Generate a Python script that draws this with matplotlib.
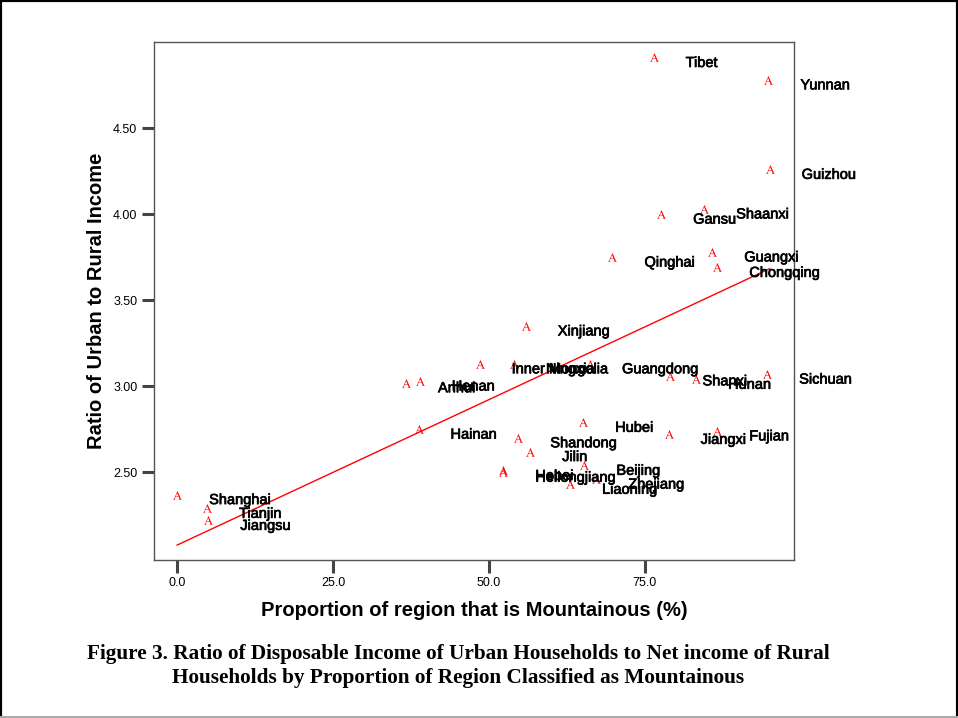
import numpy as np
import matplotlib.pyplot as plt
import matplotlib.patheffects as pe
from matplotlib.lines import Line2D

plt.rcParams['mathtext.fontset'] = 'stix'

# provinces, % mountainous, urban/rural income ratio
regions = ["Tibet", "Yunnan", "Guizhou", "Gansu", "Shaanxi", "Qinghai",
           "Guangxi", "Chongqing", "Xinjiang", "Guangdong", "Shanxi", "Hunan",
           "Sichuan", "Inner Mongolia", "Ningxia", "Henan", "Anhui", "Hainan",
           "Hubei", "Jiangxi", "Fujian", "Shandong", "Jilin", "Hebei",
           "Heilongjiang", "Beijing", "Zhejiang", "Liaoning", "Shanghai",
           "Tianjin", "Jiangsu"]
mountain = [76.4, 94.8, 95.0, 77.6, 84.5, 69.8,
            85.8, 86.6, 55.9, 66.2, 79.1, 83.2,
            94.6, 48.5, 54.0, 38.9, 36.7, 38.7,
            65.1, 78.8, 86.6, 54.7, 56.6, 52.3,
            52.3, 65.3, 67.2, 63.0, 0.0,
            4.8, 5.0]
ratio = [4.91, 4.78, 4.26, 4.00, 4.03, 3.75,
         3.78, 3.69, 3.35, 3.13, 3.06, 3.04,
         3.07, 3.13, 3.13, 3.03, 3.02, 2.75,
         2.79, 2.72, 2.74, 2.70, 2.62, 2.51,
         2.50, 2.54, 2.46, 2.43, 2.37,
         2.29, 2.22]

x = np.array(mountain)
y = np.array(ratio)

fig = plt.figure(figsize=(9.58, 7.18), dpi=100)
ax = fig.add_axes([0.1608, 0.2201, 0.668, 0.7214])

# points drawn as little red "A" glyphs like the SPSS output
ax.scatter(x, y, marker=r'$\mathrm{A}$', s=40, color='red', linewidths=0)

heavy = [pe.withStroke(linewidth=0.5, foreground='black')]
for name, xi, yi in zip(regions, x, y):
    ax.annotate(name, (xi, yi), xytext=(32, -5.5), textcoords='offset pixels',
                ha='left', va='center', fontsize=10.5,
                family='Liberation Sans', color='black', annotation_clip=False,
                path_effects=heavy)

# linear fit
b, a = np.polyfit(x, y, 1)
xs = np.array([x.min(), x.max()])
ax.plot(xs, a + b * xs, color='red', lw=1)

ax.set_xlim(-3.7, 98.9)
ax.set_ylim(1.99, 5.0)
ax.set_xticks([0, 25, 50, 75])
ax.set_xticklabels(["0.0", "25.0", "50.0", "75.0"])
ax.set_yticks([2.5, 3.0, 3.5, 4.0, 4.5])
ax.set_yticklabels(["2.50", "3.00", "3.50", "4.00", "4.50"])
ax.tick_params(direction='out', length=9, width=2.2, color='#444444',
               labelsize=9, pad=3)
for lab in ax.get_xticklabels() + ax.get_yticklabels():
    lab.set_family('Liberation Sans')
for sp in ax.spines.values():
    sp.set_color('#555555')
    sp.set_linewidth(1)

ax.set_xlabel("Proportion of region that is Mountainous (%)", fontsize=14.5,
              fontweight='bold', family='Liberation Sans', labelpad=9)
ax.set_ylabel("Ratio of Urban to Rural Income", fontsize=14.5,
              fontweight='bold', family='Liberation Sans', labelpad=5)

fig.text(0.478, 0.0724, "Figure 3. Ratio of Disposable Income of Urban Households to Net income of Rural\n"
         "Households by Proportion of Region Classified as Mountainous",
         ha='center', va='center', fontsize=15.3, fontweight='bold',
         family='Liberation Serif', linespacing=1.23)

# page frame
fig.add_artist(Line2D([0, 0], [0, 1], transform=fig.transFigure, color='black', lw=3))
fig.add_artist(Line2D([0, 1], [1, 1], transform=fig.transFigure, color='black', lw=3))
fig.add_artist(Line2D([1, 1], [0, 1], transform=fig.transFigure, color='black', lw=3))
fig.add_artist(Line2D([0, 1], [0.001, 0.001], transform=fig.transFigure, color='#aaaaaa', lw=1.5))

fig.savefig("out.png", dpi=100)
